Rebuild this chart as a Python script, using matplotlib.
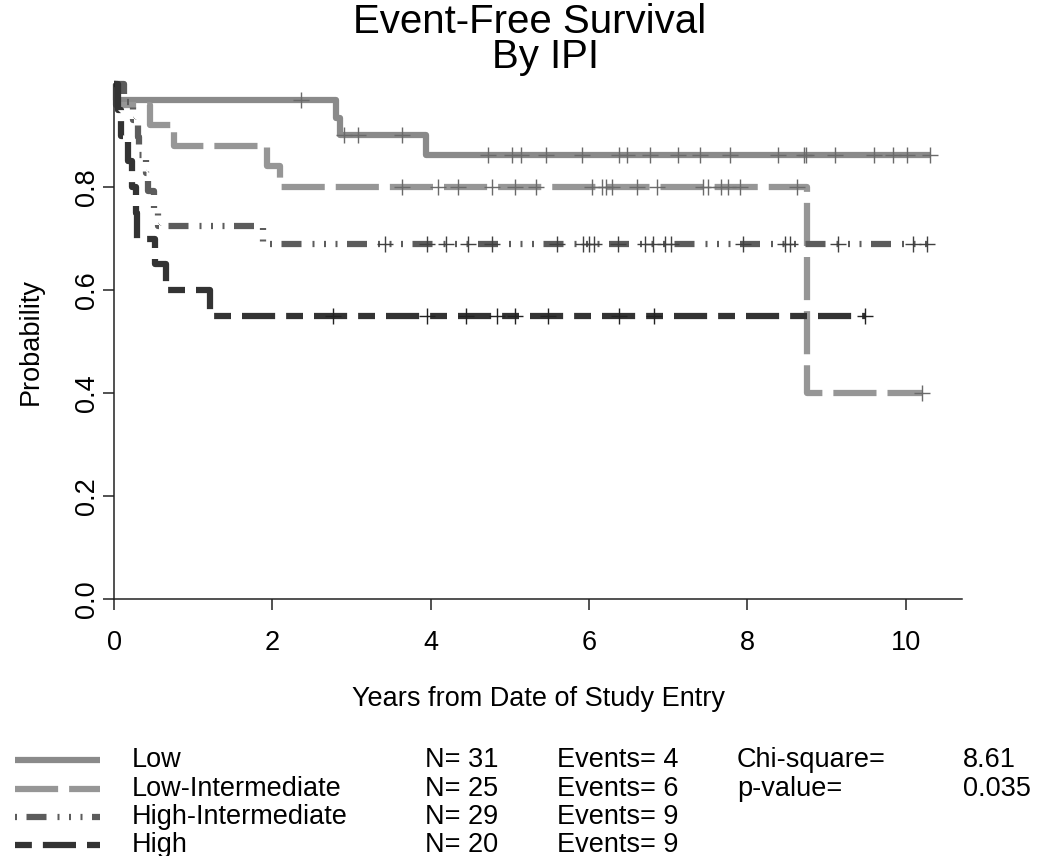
import numpy as np
import matplotlib.pyplot as plt
from matplotlib.lines import Line2D

plt.rcParams['font.family'] = ['Liberation Sans', 'DejaVu Sans']

# Kaplan-Meier steps (years, survival probability)
low_t = [0, 0.03, 2.80, 2.86, 3.94, 10.30]
low_s = [1.0, 0.968, 0.934, 0.901, 0.863, 0.863]
low_cens = [2.36, 2.90, 3.08, 3.64, 4.72, 5.03, 5.14, 5.46, 5.91, 6.38, 6.48,
            6.77, 7.12, 7.40, 7.78, 8.38, 8.71, 8.74, 9.11, 9.60, 9.84, 10.02, 10.30]

li_t = [0, 0.02, 0.45, 0.76, 1.93, 2.10, 8.75, 10.21]
li_s = [1.0, 0.96, 0.92, 0.88, 0.84, 0.80, 0.40, 0.40]
li_cens = [3.64, 4.09, 4.35, 4.78, 5.06, 5.33, 6.04, 6.16, 6.22, 6.29, 6.61,
           6.86, 7.44, 7.50, 7.66, 7.75, 7.91, 8.63, 10.21]

hi_t = [0, 0.12, 0.24, 0.30, 0.31, 0.40, 0.43, 0.50, 0.56, 1.88, 10.27]
hi_s = [1.0, 0.966, 0.931, 0.897, 0.862, 0.828, 0.793, 0.759, 0.724, 0.690, 0.690]
hi_cens = [3.42, 3.95, 4.19, 4.47, 4.78, 5.59, 5.92, 6.00, 6.06, 6.36, 6.71,
           6.81, 6.96, 7.04, 7.94, 8.48, 8.54, 9.14, 10.09, 10.27]

high_t = [0, 0.05, 0.09, 0.18, 0.23, 0.28, 0.29, 0.52, 0.66, 1.21, 9.49]
high_s = [1.0, 0.95, 0.90, 0.85, 0.80, 0.75, 0.70, 0.65, 0.60, 0.55, 0.55]
high_cens = [2.76, 3.95, 4.45, 4.84, 5.06, 5.48, 6.38, 6.82, 9.49]

groups = ['Low', 'Low-Intermediate', 'High-Intermediate', 'High']
n_vals = [31, 25, 29, 20]
events = [4, 6, 9, 9]
chisq = 8.61
pval = 0.035

# styles
colors = ['#8a8a8a', '#969696', '#5c5c5c', '#333333']
mark_colors = ['#6a6a6a', '#6a6a6a', '#404040', '#222222']
lw = 4.5
dash_seq = [None,
            (6.9, 1.76),
            (3.2, 1.76, 0.32, 1.52, 0.32, 1.52, 0.32, 1.52),
            (5.3, 1.76, 2.7, 1.76)]
legend_offset = [0, 0, 8.64, 7.06]

curves = [(low_t, low_s, low_cens), (li_t, li_s, li_cens),
          (hi_t, hi_s, hi_cens), (high_t, high_s, high_cens)]

W, H = 1050, 856
fig = plt.figure(figsize=(W / 100, H / 100), dpi=100)
ax = fig.add_axes([114 / W, 1 - 599 / H, (962 - 114) / W, (599 - 84) / H])

for (t, s, c), col, mcol, seq in zip(curves, colors, mark_colors, dash_seq):
    ax.step(t, s, where='post', color=col, lw=lw,
            linestyle='-' if seq is None else (0, seq),
            solid_capstyle='butt', dash_capstyle='butt', clip_on=False)
    t_arr = np.array(t)
    s_arr = np.array(s)
    idx = np.searchsorted(t_arr, c, side='right') - 1
    ax.plot(c, s_arr[idx], linestyle='none', marker='+', markersize=11,
            markeredgewidth=1.0, color=mcol, clip_on=False)

ax.set_xlim(0, 10.71)
ax.set_ylim(0, 1.0)
ax.set_xticks([0, 2, 4, 6, 8, 10])
ax.set_yticks([0.0, 0.2, 0.4, 0.6, 0.8])
ax.set_yticklabels(['0.0', '0.2', '0.4', '0.6', '0.8'], rotation=90, va='center')
for side in ['top', 'right']:
    ax.spines[side].set_visible(False)
for side in ['left', 'bottom']:
    ax.spines[side].set_linewidth(1.1)
    ax.spines[side].set_color('#222222')
ax.tick_params(direction='out', length=8, width=1.1, colors='#222222',
               labelsize=19.5, labelcolor='black')
ax.tick_params(axis='x', pad=14)
ax.tick_params(axis='y', pad=2)
ax.set_xlabel('Years from Date of Study Entry', fontsize=19.5, labelpad=22)
ax.set_ylabel('Probability', fontsize=19.5, labelpad=22)

fig.text(530 / W, 1 - 22 / H, 'Event-Free Survival', fontsize=29,
         ha='center', va='center')
fig.text(545 / W, 1 - 57 / H, 'By IPI', fontsize=29, ha='center', va='center')

# legend block under the plot
row_y = [760, 789, 817, 845]
for i, g in enumerate(groups):
    y = 1 - row_y[i] / H
    seq = dash_seq[i]
    fig.add_artist(Line2D([15 / W, 100 / W], [y, y], color=colors[i], lw=lw,
                          linestyle='-' if seq is None else (legend_offset[i], seq),
                          solid_capstyle='butt', dash_capstyle='butt'))
    fig.text(132 / W, y, g, fontsize=19.5, va='center')
    fig.text(425 / W, y, 'N= %d' % n_vals[i], fontsize=19.5, va='center')
    fig.text(557 / W, y, 'Events= %d' % events[i], fontsize=19.5, va='center')

fig.text(737 / W, 1 - row_y[0] / H, 'Chi-square=', fontsize=19.5, va='center')
fig.text(963 / W, 1 - row_y[0] / H, '%.2f' % chisq, fontsize=19.5, va='center')
fig.text(737 / W, 1 - row_y[1] / H, 'p-value=', fontsize=19.5, va='center')
fig.text(963 / W, 1 - row_y[1] / H, '%.3f' % pval, fontsize=19.5, va='center')

fig.savefig('out.png', dpi=100)
